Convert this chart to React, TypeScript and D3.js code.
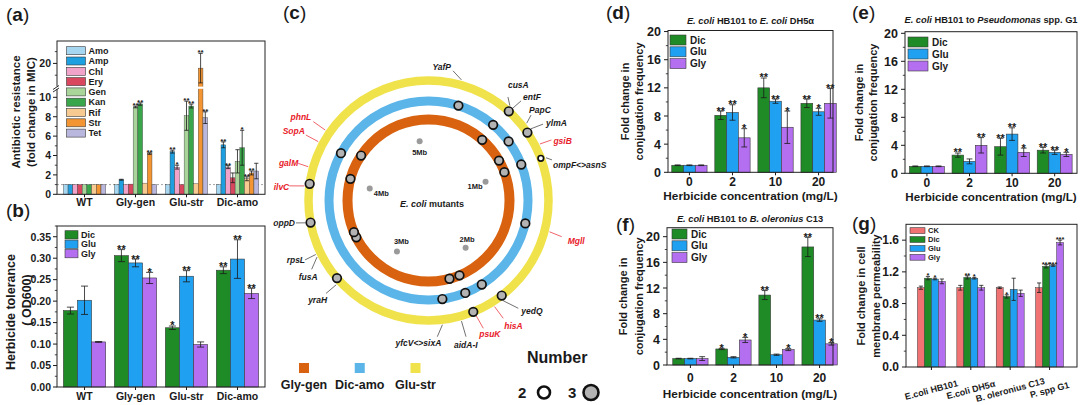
import React from "react";
import * as d3 from "d3";

const FONT = "'Liberation Sans', Arial, Helvetica, sans-serif";
const INK = "#1a1a1a";

// ---------------- (a) antibiotic resistance ----------------
const mutants = ["WT", "Gly-gen", "Glu-str", "Dic-amo"];
const antibiotics = ["Amo", "Amp", "Chl", "Ery", "Gen", "Kan", "Rif", "Str", "Tet"];
const antibioticColors = ["#a6d6f0", "#1e9fe0", "#f2a3c9", "#d9475e", "#a9d59b", "#3aa64b", "#f6ca90", "#f39532", "#b9b7dd"];
const micWT = [1, 1, 1, 1, 1, 1, 1, 1, 1];
const micGlyGen = [1.0, 1.5, 1.0, 1.05, 9.0, 9.3, 1.15, 4.2, 1.0];
const micGluStr = [1.0, 4.4, 2.8, 1.0, 8.1, 9.1, 1.1, 19.2, 7.9];
const micDicAmo = [1.0, 5.1, 2.8, 1.7, 3.4, 4.8, 1.6, 2.2, 2.4];
const micErrWT = [0, 0, 0, 0, 0, 0, 0, 0, 0];
const micErrGlyGen = [0, 0.05, 0, 0, 0.08, 0.12, 0, 0.08, 0];
const micErrGluStr = [0, 0.15, 0.2, 0, 1.5, 0.2, 0, 2.5, 0.6];
const micErrDicAmo = [0, 0.3, 0.15, 0.5, 1.2, 1.8, 0.2, 0.2, 0.8];
const micSigWT = ["", "", "", "", "", "", "", "", ""];
const micSigGlyGen = ["", "", "", "", "**", "**", "", "**", ""];
const micSigGluStr = ["", "**", "*", "", "**", "**", "", "**", "**"];
const micSigDicAmo = ["", "**", "**", "", "", "*", "**", "**", ""];
const micTicksLow = [0, 2, 4, 6, 8, 10];
const micTicksHigh = [20];

// ---------------- (b) herbicide tolerance ----------------
const herbicides = ["Dic", "Glu", "Gly"];
const herbColors = ["#1f8b26", "#1fa0f0", "#b46ef0"];
const odDic = [0.178, 0.306, 0.138, 0.272];
const odGlu = [0.202, 0.289, 0.258, 0.298];
const odGly = [0.105, 0.254, 0.099, 0.218];
const odDicErr = [0.008, 0.014, 0.004, 0.008];
const odGluErr = [0.033, 0.009, 0.013, 0.045];
const odGlyErr = [0.001, 0.013, 0.006, 0.012];
const odDicSig = ["", "**", "*", "**"];
const odGluSig = ["", "**", "**", "**"];
const odGlySig = ["", "*", "", "**"];
const odTicks = [0, 0.05, 0.1, 0.15, 0.2, 0.25, 0.3, 0.35];

// ---------------- (c) mutation map ----------------
const ringNames = ["Gly-gen", "Dic-amo", "Glu-str"];
const ringColors = ["#d8620f", "#5bb5e8", "#efe24a"];
// mutation sites, angular genome position in degrees (clockwise from top)
const siteGlyGen = [41.5, 60.5, 69.5, 157.5, 165, 243, 247, 285.5, 303.7];
const siteDicAmo = [17.5, 40.5, 53.6, 68.8, 103.3, 147.6, 158.3, 172, 298.4];
const siteGluStr = [42, 55.5, 69.4, 142.4, 158.1, 229.7, 259.4, 278];
const countGlyGen = [3, 3, 3, 3, 3, 3, 3, 3, 3];
const countDicAmo = [3, 3, 3, 3, 3, 3, 3, 3, 3];
const countGluStr = [3, 3, 2, 3, 3, 3, 3, 3];
const genomeMarks = [1, 2, 3, 4, 5];
const geneNames = ["YafP", "cusA", "entF", "PapC", "ylmA", "gsiB", "ompF<>asnS", "Mgll", "yedQ", "hisA", "psuK", "aidA-I", "yfcV<>sixA", "yraH", "fusA", "rpsL", "oppD", "ilvC", "galM", "SopA", "phnL"];
const geneHighlighted = [false, false, false, false, false, true, false, true, false, true, true, false, false, false, false, false, false, true, true, true, true];
const countLegend = [2, 3];

// ---------------- (d)(e)(f) conjugation ----------------
const concentrations = ["0", "2", "10", "20"];
const conjTicks = [0, 4, 8, 12, 16, 20];
const dDic = [1, 8.1, 12.0, 9.8];
const dGlu = [1, 8.5, 10.1, 8.6];
const dGly = [1, 4.9, 6.4, 9.8];
const dDicErr = [0.05, 0.6, 1.4, 0.6];
const dGluErr = [0.05, 1.1, 0.3, 0.5];
const dGlyErr = [0.05, 1.3, 2.3, 2.1];
const dDicSig = ["", "**", "**", "**"];
const dGluSig = ["", "**", "**", "*"];
const dGlySig = ["", "*", "*", "**"];

const eDic = [1, 2.6, 3.8, 3.3];
const eGlu = [1, 1.7, 5.6, 3.0];
const eGly = [1, 4.0, 3.0, 2.7];
const eDicErr = [0.05, 0.3, 1.2, 0.4];
const eGluErr = [0.05, 0.35, 0.9, 0.3];
const eGlyErr = [0.05, 1.1, 0.6, 0.3];
const eDicSig = ["", "**", "**", "**"];
const eGluSig = ["", "", "**", "**"];
const eGlySig = ["", "**", "*", "*"];

const fDic = [1, 2.5, 10.9, 18.4];
const fGlu = [1, 1.2, 1.6, 7.0];
const fGly = [1, 3.9, 2.4, 3.3];
const fDicErr = [0.05, 0.1, 0.7, 1.5];
const fGluErr = [0.05, 0.1, 0.1, 0.2];
const fGlyErr = [0.3, 0.4, 0.15, 0.2];
const fDicSig = ["", "*", "**", "**"];
const fGluSig = ["", "", "", "**"];
const fGlySig = ["", "*", "*", "*"];

// ---------------- (g) membrane permeability ----------------
const strains = ["E.coli HB101", "E.coli DH5\u03b1", "B. oleronius C13", "P. spp G1"];
const permGroups = ["CK", "Dic", "Glu", "Gly"];
const permColors = ["#f07272", "#1f8b26", "#1fa0f0", "#b46ef0"];
const gCK = [1.0, 1.0, 1.0, 1.0];
const gDic = [1.12, 1.13, 0.89, 1.27];
const gGlu = [1.11, 1.12, 0.98, 1.28];
const gGly = [1.08, 1.0, 0.93, 1.57];
const gCKErr = [0.02, 0.03, 0.01, 0.06];
const gDicErr = [0.02, 0.02, 0.02, 0.02];
const gGluErr = [0.01, 0.01, 0.14, 0.01];
const gGlyErr = [0.03, 0.03, 0.04, 0.03];
const gCKSig = ["", "", "", ""];
const gDicSig = ["*", "**", "*", "***"];
const gGluSig = ["*", "*", "", "***"];
const gGlySig = ["", "", "", "***"];
const permTicks = [0, 0.4, 0.8, 1.2, 1.6];

// layout for gene labels: [line start angle, line end angle, line end radius, text dx, text dy, anchor]
const geneLabelLayout: [number, number, number, number, number, string][] = [
  [15.3, 10.7, 132, -2, -1, "end"],
  [40.6, 37.5, 130.5, 0, -9, "start"],
  [42.4, 42.9, 136, 2, -1, "start"],
  [51.8, 50.2, 133.5, -2, -2, "start"],
  [55, 56.3, 137.7, 3, 2, "start"],
  [63.1, 63.8, 137, 2, 4, "start"],
  [70, 71.8, 130, 1, 8, "start"],
  [104.5, 105.2, 138, 6, 7, "start"],
  [143.3, 140.2, 140.3, 3, 6, "start"],
  [148.1, 147.6, 139.5, 1, 11, "start"],
  [157.5, 156.8, 139, -4, 9, "start"],
  [164.7, 164.6, 141.3, -12, 11, "start"],
  [173.6, 176.3, 136.5, 4, 9, "end"],
  [227.6, 227.8, 138.3, 1, 10, "end"],
  [243.1, 239.5, 135.6, 6, 11, "end"],
  [244.4, 244.3, 137, 0, 3, "end"],
  [259.7, 260.4, 134.4, -1, 3, "end"],
  [276.7, 276, 140, 0, 4, "end"],
  [285.7, 285.9, 135.4, 0, 3, "end"],
  [298.1, 298.1, 139, -1, -1, "end"],
  [304.3, 304.4, 139.6, -2, -2, "end"],
];
// Mb label offsets: [dx, dy, anchor]
const mbLabelLayout: [number, number, string][] = [
  [-3, 7, "end"],
  [1.5, -6, "middle"],
  [4.5, -8, "middle"],
  [4, 8, "start"],
  [0, 14, "middle"],
];

type Series = { name: string; color: string; values: number[]; errs: number[]; sig: string[] };

function Bars({ cats, series, x, y, starFs, capFrac = 0.55, sw = 0.6 }: any) {
  const inner = d3.scaleBand<string>().domain(series.map((s: Series) => s.name)).range([0, x.bandwidth()]);
  const w = inner.bandwidth();
  const y0 = y(0);
  const out: any[] = [];
  series.forEach((s: Series) => {
    s.values.forEach((v: number, i: number) => {
      const bx = (x(cats[i]) as number) + (inner(s.name) as number);
      const top = y(v);
      out.push(<rect key={`r${s.name}${i}`} x={bx} y={top} width={w} height={y0 - top} fill={s.color} stroke="#3a3a3a" strokeWidth={sw} />);
    });
  });
  series.forEach((s: Series) => {
    s.values.forEach((v: number, i: number) => {
      const bx = (x(cats[i]) as number) + (inner(s.name) as number);
      const cx = bx + w / 2;
      const e = s.errs[i];
      if (e > 0) {
        const yt = y(v + e), yb = y(v - e);
        const cw = Math.max(1.5, (w * capFrac) / 2);
        out.push(<path key={`e${s.name}${i}`} d={`M${cx},${yb}V${yt}M${cx - cw},${yt}H${cx + cw}M${cx - cw},${yb}H${cx + cw}`} stroke={INK} strokeWidth={0.8} fill="none" />);
      }
      if (s.sig[i]) {
        const yt = y(v + e);
        out.push(
          <text key={`s${s.name}${i}`} x={cx} y={yt - 1.5 + 0.45 * starFs} textAnchor="middle" fontSize={starFs} fontWeight="bold" fill={INK}>
            {s.sig[i]}
          </text>
        );
      }
    });
  });
  return <g>{out}</g>;
}

function YTicks({ x0, y, major, minor = [], fmt, fs, len = 4, mlen = 2.2, gap = 2 }: any) {
  return (
    <g>
      {major.map((t: number, i: number) => (
        <line key={`M${i}`} x1={x0 - len} x2={x0} y1={y(t)} y2={y(t)} stroke={INK} strokeWidth={1} />
      ))}
      {minor.map((t: number, i: number) => (
        <line key={`m${i}`} x1={x0 - mlen} x2={x0} y1={y(t)} y2={y(t)} stroke={INK} strokeWidth={0.8} />
      ))}
      {major.map((t: number, i: number) => (
        <text key={`t${i}`} x={x0 - len - gap} y={y(t)} dy="0.36em" textAnchor="end" fontSize={fs} fontWeight="bold" fill={INK}>
          {fmt(t)}
        </text>
      ))}
    </g>
  );
}

function XTicks({ y0, x, cats, labels, labelY, fs, len = 3 }: any) {
  return (
    <g>
      {cats.map((c: string, i: number) => {
        const cx = (x(c) as number) + x.bandwidth() / 2;
        return (
          <g key={i}>
            <line x1={cx} x2={cx} y1={y0} y2={y0 + len} stroke={INK} strokeWidth={1} />
            {labels && (
              <text x={cx} y={labelY} textAnchor="middle" fontSize={fs} fontWeight="bold" fill={INK}>
                {labels[i]}
              </text>
            )}
          </g>
        );
      })}
    </g>
  );
}

function Legend({ names, colors, x, y, w, h, step, fs, gap = 4 }: any) {
  return (
    <g>
      {names.map((n: string, i: number) => (
        <g key={n}>
          <rect x={x} y={y + i * step} width={w} height={h} fill={colors[i]} stroke="#3a3a3a" strokeWidth={0.6} />
          <text x={x + w + gap} y={y + i * step + h / 2} dy="0.36em" fontSize={fs} fontWeight="bold" fill={INK}>
            {n}
          </text>
        </g>
      ))}
    </g>
  );
}

function PanelLetter({ x, y, letter }: any) {
  return (
    <text x={x} y={y} fontSize={19} fill={INK}>
      <tspan>(</tspan>
      <tspan fontWeight="bold">{letter}</tspan>
      <tspan>)</tspan>
    </text>
  );
}

function YLabel({ x, y, text, fs }: any) {
  return (
    <text transform={`translate(${x},${y}) rotate(-90)`} textAnchor="middle" dominantBaseline="central" fontSize={fs} fontWeight="bold" fill={INK}>
      {text}
    </text>
  );
}

function Frame({ x0, x1, y0, y1 }: any) {
  return <rect x={x0} y={y0} width={x1 - x0} height={y1 - y0} fill="none" stroke="#222" strokeWidth={1} />;
}

function PanelA() {
  const x0 = 57, x1 = 265, yTop = 41, yBot = 194.3;
  const x = d3.scaleBand<string>().domain(mutants).range([x0, x1]).paddingInner(0.17).paddingOuter(0.125);
  const yLow = d3.scaleLinear().domain([0, 10.9]).range([yBot, 88.6]);
  const yHigh = d3.scaleLinear().domain([16, 23.8]).range([87, yTop]);
  const y: any = (v: number) => (v <= 10.9 ? yLow(v) : yHigh(v));
  const rows = [micWT, micGlyGen, micGluStr, micDicAmo];
  const errRows = [micErrWT, micErrGlyGen, micErrGluStr, micErrDicAmo];
  const sigRows = [micSigWT, micSigGlyGen, micSigGluStr, micSigDicAmo];
  const series: Series[] = antibiotics.map((ab, j) => ({
    name: ab,
    color: antibioticColors[j],
    values: rows.map((r) => r[j]),
    errs: errRows.map((r) => r[j]),
    sig: sigRows.map((r) => r[j]),
  }));
  const minorLow = [1, 3, 5, 7, 9];
  const minorHigh = [18, 22];
  return (
    <g>
      <PanelLetter x={6} y={21} letter="a" />
      <line x1={x0} x2={x1} y1={y(1)} y2={y(1)} stroke="#999" strokeWidth={0.9} strokeDasharray="2,2" />
      <Bars cats={mutants} series={series} x={x} y={y} starFs={8} capFrac={0.9} sw={0.4} />
      <rect x={x0 + 1} y={86.6} width={x1 - x0 - 2} height={2.2} fill="#fff" />
      <Frame x0={x0} x1={x1} y0={yTop} y1={yBot} />
      <rect x={x0 - 2} y={86.3} width={4} height={2.8} fill="#fff" />
      <line x1={x0 - 4} y1={89.5} x2={x0 + 2} y2={85.5} stroke={INK} strokeWidth={0.9} />
      <line x1={x0 - 4} y1={92} x2={x0 + 2} y2={88} stroke={INK} strokeWidth={0.9} />
      <YTicks x0={x0} y={y} major={micTicksLow} minor={minorLow} fmt={(t: number) => `${t}`} fs={10.5} />
      <YTicks x0={x0} y={y} major={micTicksHigh} minor={minorHigh} fmt={(t: number) => `${t}`} fs={10.5} />
      <XTicks y0={yBot} x={x} cats={mutants} labels={mutants} labelY={206} fs={10.5} />
      <Legend names={antibiotics} colors={antibioticColors} x={66.5} y={46.7} w={19} h={8} step={10.3} fs={9} gap={3} />
      <YLabel x={16} y={112} text="Antibiotic resistance" fs={11.5} />
      <YLabel x={31} y={112} text="(fold change in MIC)" fs={11.5} />
    </g>
  );
}

function PanelB() {
  const x0 = 57, x1 = 265, yTop = 226, yBot = 387;
  const x = d3.scaleBand<string>().domain(mutants).range([x0, x1]).paddingInner(0.17).paddingOuter(0.125);
  const y = d3.scaleLinear().domain([0, 0.375]).range([yBot, yTop]);
  const series: Series[] = [
    { name: "Dic", color: herbColors[0], values: odDic, errs: odDicErr, sig: odDicSig },
    { name: "Glu", color: herbColors[1], values: odGlu, errs: odGluErr, sig: odGluSig },
    { name: "Gly", color: herbColors[2], values: odGly, errs: odGlyErr, sig: odGlySig },
  ];
  const minor = odTicks.map((t) => t + 0.025);
  return (
    <g>
      <PanelLetter x={6} y={217} letter="b" />
      <Bars cats={mutants} series={series} x={x} y={y} starFs={11} capFrac={0.5} />
      <Frame x0={x0} x1={x1} y0={yTop} y1={yBot} />
      <YTicks x0={x0} y={y} major={odTicks} minor={minor} fmt={(t: number) => t.toFixed(2)} fs={10.5} />
      <XTicks y0={yBot} x={x} cats={mutants} labels={mutants} labelY={400} fs={10.5} />
      <Legend names={herbicides} colors={herbColors} x={65} y={230.7} w={13} h={8.3} step={9.4} fs={9} gap={3} />
      <YLabel x={11} y={312} text="Herbicide tolerance" fs={12.5} />
      <YLabel x={27} y={300} text="( OD600)" fs={12.5} />
    </g>
  );
}

function ConjPanel({ letter, lx, ly, x0, x1, yTop, yBot, yMax, xr, title, dic, glu, gly, titleY, tickY, labY, labFs, ylx1, ylx2, legX, legY, legW, legStep }: any) {
  const x = d3.scaleBand<string>().domain(concentrations).range(xr).padding(0.18);
  const y = d3.scaleLinear().domain([0, yMax]).range([yBot, yTop]);
  const series: Series[] = [
    { name: "Dic", color: herbColors[0], ...dic },
    { name: "Glu", color: herbColors[1], ...glu },
    { name: "Gly", color: herbColors[2], ...gly },
  ];
  const minor = [2, 6, 10, 14, 18];
  const mid = (yTop + yBot) / 2;
  const cxm = (x0 + x1) / 2;
  return (
    <g>
      <PanelLetter x={lx} y={ly} letter={letter} />
      <Bars cats={concentrations} series={series} x={x} y={y} starFs={11} capFrac={0.5} />
      <Frame x0={x0} x1={x1} y0={yTop} y1={yBot} />
      <YTicks x0={x0} y={y} major={conjTicks} minor={minor} fmt={(t: number) => `${t}`} fs={12.5} len={4} gap={3} />
      <XTicks y0={yBot} x={x} cats={concentrations} labels={concentrations} labelY={tickY} fs={12} />
      <text x={cxm} y={labY} textAnchor="middle" fontSize={labFs} fontWeight="bold" fill={INK}>
        Herbicide concentration (mg/L)
      </text>
      <text x={cxm} y={titleY} textAnchor="middle" fontSize={9.3} fontWeight="bold" fill={INK}>
        {title}
      </text>
      <Legend names={herbicides} colors={herbColors} x={legX} y={legY} w={legW} h={10} step={legStep} fs={10} gap={4} />
      <YLabel x={ylx1} y={mid} text="Fold change in" fs={11} />
      <YLabel x={ylx2} y={mid} text="conjugation frequency" fs={11} />
    </g>
  );
}

function PanelG() {
  const x0 = 906, x1 = 1077, yTop = 224.3, yBot = 367;
  const x = d3.scaleBand<string>().domain(strains).range([906, 1075]).padding(0.29);
  const y = d3.scaleLinear().domain([0, 1.8]).range([yBot, yTop]);
  const series: Series[] = [
    { name: "CK", color: permColors[0], values: gCK, errs: gCKErr, sig: gCKSig },
    { name: "Dic", color: permColors[1], values: gDic, errs: gDicErr, sig: gDicSig },
    { name: "Glu", color: permColors[2], values: gGlu, errs: gGluErr, sig: gGluSig },
    { name: "Gly", color: permColors[3], values: gGly, errs: gGlyErr, sig: gGlySig },
  ];
  const minor = [0.2, 0.6, 1.0, 1.4];
  return (
    <g>
      <PanelLetter x={852} y={230} letter="g" />
      <Bars cats={strains} series={series} x={x} y={y} starFs={7.5} capFrac={0.6} sw={0.5} />
      <Frame x0={x0} x1={x1} y0={yTop} y1={yBot} />
      <YTicks x0={x0} y={y} major={permTicks} minor={minor} fmt={(t: number) => t.toFixed(1)} fs={12} len={4} gap={3} />
      <XTicks y0={yBot} x={x} cats={strains} fs={9} />
      {strains.map((s, i) => {
        const cx = (x(s) as number) + x.bandwidth() / 2;
        return (
          <text key={s} transform={`translate(${cx},${390}) rotate(-15)`} textAnchor="middle" dominantBaseline="central" fontSize={9} fontWeight="bold" fill={INK}>
            {s}
          </text>
        );
      })}
      <Legend names={permGroups} colors={permColors} x={910} y={227.7} w={15} h={5.8} step={8.9} fs={7.5} gap={3} />
      <YLabel x={861} y={296} text="Fold change in cell" fs={11} />
      <YLabel x={876} y={296} text="membrane permeability" fs={11} />
    </g>
  );
}

function PanelC() {
  const cx = 428.5, cy = 200.5;
  const ang = d3.scaleLinear().domain([0, 360]).range([0, 2 * Math.PI]);
  const pt = (deg: number, r: number): [number, number] => [cx + r * Math.sin(ang(deg)), cy - r * Math.cos(ang(deg))];
  const ringR = [81, 99.5, 120];
  const ringW = [10, 9, 8.5];
  const sites = [siteGlyGen, siteDicAmo, siteGluStr];
  const counts = [countGlyGen, countDicAmo, countGluStr];
  const rScale = d3.scaleOrdinal<number, number>().domain([2, 3]).range([2.8, 4.3]);
  const fillScale = d3.scaleOrdinal<number, string>().domain([2, 3]).range(["#ffffff", "#b3b3b3"]);
  const mb = d3.scaleLinear().domain([0, 5.15]).range([2, 362]);
  const legendX = d3.scalePoint<string>().domain(ringNames).range([304, 415.5]);
  return (
    <g>
      <PanelLetter x={283} y={19} letter="c" />
      {ringNames.map((n, i) => (
        <circle key={n} cx={cx} cy={cy} r={ringR[i]} fill="none" stroke={ringColors[i]} strokeWidth={ringW[i]} />
      ))}
      {genomeMarks.map((m, i) => {
        const [px, py] = pt(mb(m), 60);
        const [dx, dy, an] = mbLabelLayout[i];
        return (
          <g key={m}>
            <circle cx={px} cy={py} r={3} fill="#9a9a9a" />
            <text x={px + dx} y={py + dy} textAnchor={an} fontSize={7.5} fontWeight="bold" fill={INK}>
              {`${m}Mb`}
            </text>
          </g>
        );
      })}
      <text x={432} y={207} textAnchor="middle" fontSize={9} fontWeight="bold" fill={INK}>
        <tspan fontStyle="italic">E. coli</tspan> mutants
      </text>
      {geneNames.map((g, i) => {
        const [a0, a1, r1, dx, dy, an] = geneLabelLayout[i];
        const [sx, sy] = pt(a0, 125);
        const [ex, ey] = pt(a1, r1);
        const col = geneHighlighted[i] ? "#e8202a" : INK;
        return (
          <g key={g}>
            <line x1={sx} y1={sy} x2={ex} y2={ey} stroke={geneHighlighted[i] ? "#e8202a" : "#333"} strokeWidth={0.7} />
            <text x={ex + dx} y={ey + dy} textAnchor={an} fontSize={8.5} fontWeight="bold" fontStyle="italic" fill={col}>
              {g}
            </text>
          </g>
        );
      })}
      {sites.map((arr, ri) =>
        arr.map((s, j) => {
          const [px, py] = pt(s, ringR[ri]);
          return <circle key={`${ri}-${j}`} cx={px} cy={py} r={rScale(counts[ri][j])} fill={fillScale(counts[ri][j])} stroke="#111" strokeWidth={1.7} />;
        })
      )}
      {ringNames.map((n, i) => (
        <g key={n}>
          <rect x={(legendX(n) as number) - 5} y={363} width={10} height={10} fill={ringColors[i]} />
          <text x={legendX(n)} y={389} textAnchor="middle" fontSize={12.5} fontWeight="bold" fill={INK}>
            {n}
          </text>
        </g>
      ))}
      <text x={527} y={363} fontSize={16} fontWeight="bold" fill={INK}>
        Number
      </text>
      {countLegend.map((c, i) => (
        <g key={c}>
          <text x={518 + i * 50} y={398} fontSize={15} fontWeight="bold" fill={INK}>
            {c}
          </text>
          <circle cx={544 + i * 47} cy={392.5} r={c === 2 ? 6 : 7.5} fill={fillScale(c)} stroke="#111" strokeWidth={2.6} />
        </g>
      ))}
    </g>
  );
}

export default function App() {
  return (
    <svg width={1080} height={405} viewBox="0 0 1080 405" style={{ position: "absolute", left: 0, top: 0, background: "#fff" }} fontFamily={FONT}>
      <rect width={1080} height={405} fill="#fff" />
      <PanelA />
      <PanelB />
      <PanelC />
      <ConjPanel
        letter="d" lx={606} ly={19} x0={668} x1={833} yTop={30.5} yBot={172.3} yMax={20.15} xr={[664, 844]}
        title={<><tspan fontStyle="italic">E. coli</tspan> HB101 to <tspan fontStyle="italic">E. coli</tspan> DH5α</>}
        titleY={24} tickY={185.5} labY={199.5} labFs={11.8}
        dic={{ values: dDic, errs: dDicErr, sig: dDicSig }} glu={{ values: dGlu, errs: dGluErr, sig: dGluSig }} gly={{ values: dGly, errs: dGlyErr, sig: dGlySig }}
        ylx1={625} ylx2={639} legX={670} legY={35} legW={16} legStep={11.8}
      />
      <ConjPanel
        letter="e" lx={852} ly={19} x0={905} x1={1077} yTop={31.7} yBot={173.3} yMax={20.23} xr={[901.8, 1079.8]}
        title={<><tspan fontStyle="italic">E. coli</tspan> HB101 to <tspan fontStyle="italic">Pseudomonas</tspan> spp. G1</>}
        titleY={23} tickY={186.5} labY={200.5} labFs={11.6}
        dic={{ values: eDic, errs: eDicErr, sig: eDicSig }} glu={{ values: eGlu, errs: eGluErr, sig: eGluSig }} gly={{ values: eGly, errs: eGlyErr, sig: eGlySig }}
        ylx1={859} ylx2={873} legX={908} legY={37} legW={20} legStep={12}
      />
      <ConjPanel
        letter="f" lx={616} ly={231} x0={667} x1={833} yTop={227.7} yBot={365} yMax={21.4} xr={[665, 845]}
        title={<><tspan fontStyle="italic">E. coli</tspan> HB101 to <tspan fontStyle="italic">B. oleronius</tspan> C13</>}
        titleY={222} tickY={382} labY={398} labFs={11.8}
        dic={{ values: fDic, errs: fDicErr, sig: fDicSig }} glu={{ values: fGlu, errs: fGluErr, sig: fGluSig }} gly={{ values: fGly, errs: fGlyErr, sig: fGlySig }}
        ylx1={623} ylx2={639} legX={672} legY={229} legW={15} legStep={11.8}
      />
      <PanelG />
    </svg>
  );
}
